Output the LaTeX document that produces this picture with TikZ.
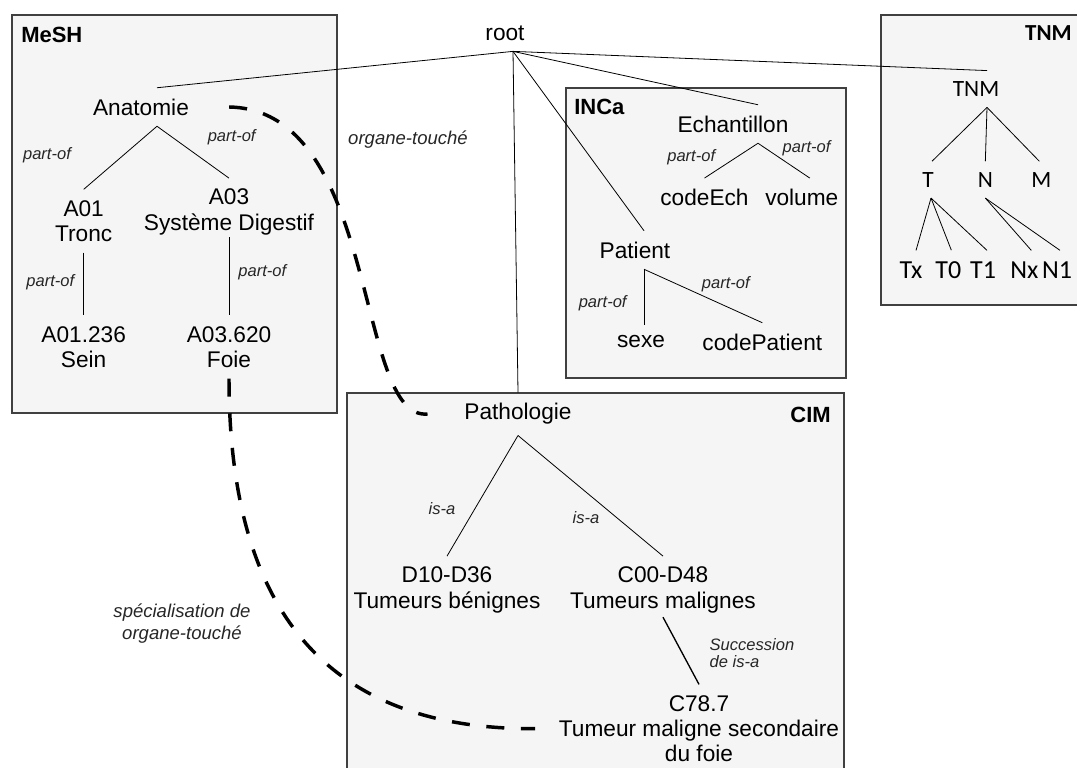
\documentclass[tikz,border=0pt]{standalone}
\usepackage{fontspec}
\setmainfont{Liberation Sans}
\newfontfamily\tnmfont{Carlito}
\tikzstyle{concept} = [
  inner sep=8pt,
  align=center,
  font=\fontsize{17}{19}\selectfont
]
\tikzstyle{stage} = [inner sep=8pt, font=\tnmfont\fontsize{17.5}{20}\selectfont]
\tikzstyle{substage} = [inner sep=8pt, font=\tnmfont\fontsize{19.5}{22}\selectfont]
\tikzstyle{rel} = [inner sep=0pt, text=black!85, font=\fontsize{12.4}{12.8}\selectfont\itshape]
\tikzstyle{linklabel} = [
  inner sep=0pt,
  align=center,
  text=black!85,
  font=\fontsize{13.9}{16.5}\selectfont\itshape
]
\tikzstyle{boxlabel} = [inner sep=0pt, font=\fontsize{16.5}{18}\selectfont\bfseries]
\tikzstyle{tnmlabel} = [inner sep=0pt, font=\tnmfont\fontsize{17.2}{18}\selectfont\bfseries]
\tikzstyle{group} = [draw=black!75, fill=black!4, line width=0.9pt]
\tikzstyle{branch} = [line width=0.6pt]
\tikzstyle{link} = [line width=2.6pt, dash pattern=on 13.5pt off 12.5pt]
\pgfdeclarelayer{background}
\pgfsetlayers{background,main}

\begin{document}
\begin{tikzpicture}[x=0.75pt, y=-0.75pt, node distance=68pt]
    \useasboundingbox (0,0) rectangle (1077,767);

    \node (root) [concept] at (505,33) {root};

    % MeSH
    \node (mesh-label) [boxlabel, anchor=west] at (21,35) {MeSH};
    \node (anat) [concept] at (141,107) {Anatomie};
    \node (a01) [concept, below of=anat, node distance=85.5pt, xshift=-43pt] {A01\\Tronc};
    \node (a03) [concept, right of=a01, node distance=109pt, yshift=6.75pt] {A03\\Système Digestif};
    \node (a01236) [concept, below of=a01, node distance=94.5pt] {A01.236\\Sein};
    \node (a03620) [concept, right of=a01236, node distance=109pt] {A03.620\\Foie};

    % INCa
    \node (inca-label) [boxlabel, anchor=west] at (574,107) {INCa};
    \node (echant) [concept] at (733,124) {Echantillon};
    \node (codeech) [concept, below of=echant, node distance=55pt, xshift=-21.4pt] {codeEch};
    \node (volume) [concept, right of=codeech, node distance=73pt] {volume};
    \node (patient) [concept] at (635,250) {Patient};
    \node (sexe) [concept, below of=patient, node distance=69pt, xshift=4.5pt] {sexe};
    \node (codepat) [concept, right of=sexe, node distance=91pt] {codePatient};

    % TNM
    \node (tnm-label) [tnmlabel, anchor=east] at (1072,33) {TNM};
    \node (tnm) [stage] at (976,89) {TNM};
    \node (t) [stage, below of=tnm, xshift=-36pt] {T};
    \node (n) [stage, right of=t, node distance=43pt] {N};
    \node (m) [stage, right of=n, node distance=42pt] {M};
    \node (tx) [substage, below of=t, node distance=67.5pt, xshift=-12.75pt] {Tx};
    \node (t0) [substage, right of=tx, node distance=28pt] {T0};
    \node (t1) [substage, right of=t0, node distance=26pt] {T1};
    \node (nx) [substage, right of=t1, node distance=31pt] {Nx};
    \node (n1) [substage, right of=nx, node distance=24.5pt] {N1};

    % CIM
    \node (cim-label) [boxlabel, anchor=east] at (831,415) {CIM};
    \node (path) [concept] at (518,414) {Pathologie};
    \node (d10) [concept, below of=path, node distance=132pt, xshift=-53.25pt] {D10-D36\\Tumeurs bénignes};
    \node (c00) [concept, right of=d10, node distance=162pt] {C00-D48\\Tumeurs malignes};
    \node (c787) [concept, below of=c00, node distance=104pt, xshift=27pt] {C78.7\\Tumeur maligne secondaire\\du foie};

    \node (organe-label) [linklabel] at (408,140) {organe-touché};
    \node (spec-label) [linklabel] at (182,624) {spécialisation de\\organe-touché};

    \begin{pgfonlayer}{background}
      \draw [group] (12,15) rectangle (337,413);
      \draw [group] (566,88) rectangle (846,378);
      \draw [group] (881,15) rectangle (1090,305);
      \draw [group] (347,393) rectangle (844,790);
    \end{pgfonlayer}

    \draw [branch] ([xshift=6pt]root.south) -- ([xshift=12pt]anat.north);
    \draw [branch] ([xshift=6pt]root.south) -- (path.north);
    \draw [branch] ([xshift=6pt]root.south) -- ([xshift=6.75pt]patient.north);
    \draw [branch] ([xshift=6pt]root.south) -- ([xshift=18.75pt]echant.north);
    \draw [branch] ([xshift=6pt]root.south) -- ([xshift=8.25pt]tnm.north);

    \draw [branch] ([xshift=12pt]anat.south) -- node (po-a01) [rel, xshift=-55pt, yshift=1.8pt] {part-of} (a01.north);
    \draw [branch] ([xshift=12pt]anat.south) -- node (po-a03) [rel, xshift=29pt, yshift=11pt] {part-of} (a03.north);
    \draw [branch] (a01.south) -- node (po-a01236) [rel, xshift=-25pt, yshift=1.7pt] {part-of} (a01236.north);
    \draw [branch] ([yshift=6.5pt]a03.south) -- node (po-a03620) [rel, xshift=25pt, yshift=2.8pt] {part-of} (a03620.north);

    \draw [branch] ([xshift=18.75pt]echant.south) -- node (po-codeech) [rel, xshift=-30pt, yshift=2.25pt] {part-of} (codeech.north);
    \draw [branch] ([xshift=18.75pt]echant.south) -- node (po-volume) [rel, xshift=17pt, yshift=9pt] {part-of} ([xshift=6pt]volume.north);
    \draw [branch] ([xshift=6.75pt]patient.south) -- node (po-sexe) [rel, xshift=-31pt, yshift=-4.5pt] {part-of} ([xshift=2.25pt]sexe.north);
    \draw [branch] ([xshift=6.75pt]patient.south) -- node (po-codepat) [rel, xshift=17pt, yshift=8.8pt] {part-of} (codepat.north);

    \draw [branch] ([xshift=8.25pt]tnm.south) -- ([xshift=3pt]t.north);
    \draw [branch] ([xshift=8.25pt]tnm.south) -- (n.north);
    \draw [branch] ([xshift=8.25pt]tnm.south) -- ([xshift=-1.5pt]m.north);
    \draw [branch] ([xshift=2.25pt]t.south) -- ([xshift=3.75pt]tx.north);
    \draw [branch] ([xshift=2.25pt]t.south) -- ([xshift=2.25pt]t0.north);
    \draw [branch] ([xshift=2.25pt]t.south) -- ([xshift=3pt]t1.north);
    \draw [branch] (n.south) -- ([xshift=5.25pt]nx.north);
    \draw [branch] (n.south) -- ([xshift=2.25pt]n1.north);

    \draw [branch] (path.south) -- node (isa-d10) [rel, xshift=-30.4pt, yshift=-9.4pt] {is-a} (d10.north);
    \draw [branch] (path.south) -- node (isa-c00) [rel, xshift=-3.4pt, yshift=-16pt] {is-a} (c00.north);
    \draw [line width=1pt] ([yshift=5pt]c00.south) -- node (isa-c787) [rel, anchor=west, align=left, xshift=21pt, yshift=-1.5pt] {Succession\\de is-a} (c787.north);

    \draw [link] ([xshift=22pt]anat.east) .. controls +(151,3) and +(-73,7) .. ([xshift=-19.5pt]path.west);
    \draw [link] (a03620.south) .. controls +(0,237) and +(-204,1) .. ([xshift=-9.75pt]c787.west);
  \end{tikzpicture}
\end{document}
